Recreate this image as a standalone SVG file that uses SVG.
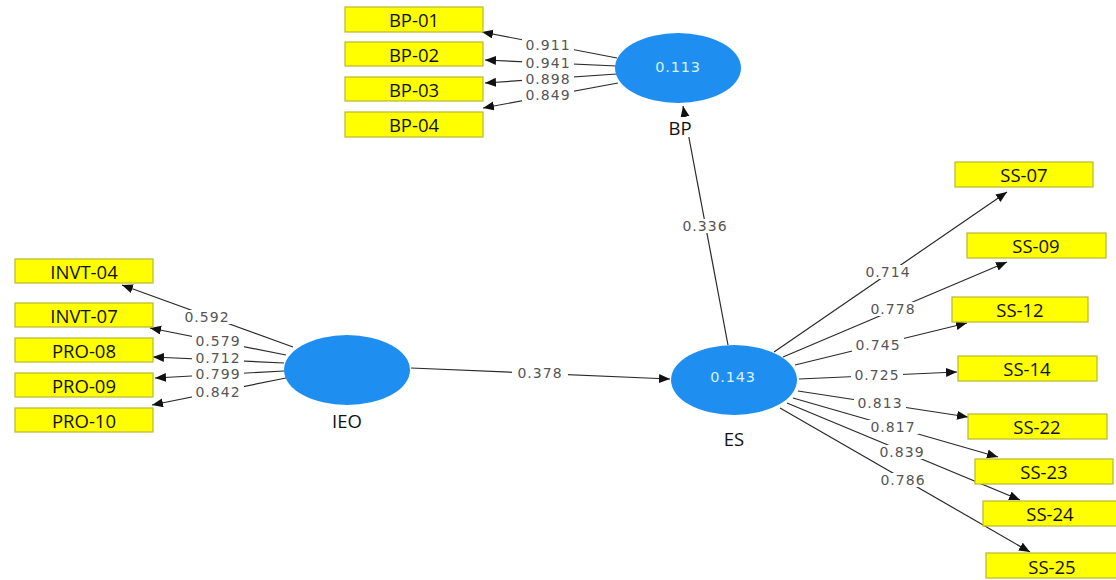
<svg xmlns="http://www.w3.org/2000/svg" width="1116" height="580" viewBox="0 0 1116 580">
<style>
.box{fill:#ffff00;stroke:#b8b830;stroke-width:1.2}
.btx{font-family:"Open Sans","Liberation Sans",sans-serif;font-size:18.5px;fill:#111;text-anchor:middle;dominant-baseline:central}
.ell{fill:#1e8ff0}
.etx{font-family:"DejaVu Sans",sans-serif;font-size:14.5px;fill:#d8f2ff;text-anchor:middle;dominant-baseline:central;letter-spacing:0.8px}
.ntx{font-family:"Open Sans","Liberation Sans",sans-serif;font-size:18.5px;fill:#111;text-anchor:middle;dominant-baseline:central}
.ln{stroke:#2a2a2a;stroke-width:1.2;fill:none;marker-end:url(#ah)}
.lb rect{fill:#fff}
.lb text{font-family:"DejaVu Sans",sans-serif;font-size:14px;fill:#555;text-anchor:middle;dominant-baseline:central;letter-spacing:1px}
</style>
<defs>
<marker id="ah" markerWidth="12" markerHeight="10" refX="11" refY="4.5" orient="auto" markerUnits="userSpaceOnUse">
<path d="M0,0 L11,4.5 L0,9 z" fill="#111"/>
</marker>
</defs>
<rect width="1116" height="580" fill="#fff"/>

<g id="connectors">
<line class="ln" x1="617" y1="58" x2="482" y2="32"/>
<line class="ln" x1="617" y1="66" x2="485" y2="60"/>
<line class="ln" x1="617" y1="74" x2="485" y2="83"/>
<line class="ln" x1="618" y1="83" x2="483" y2="108"/>
<line class="ln" x1="293" y1="347" x2="122" y2="285"/>
<line class="ln" x1="286" y1="355" x2="150" y2="328"/>
<line class="ln" x1="284" y1="363" x2="153" y2="357"/>
<line class="ln" x1="284" y1="371" x2="155" y2="378"/>
<line class="ln" x1="286" y1="378" x2="152" y2="405"/>
<line class="ln" x1="411" y1="368" x2="670" y2="379"/>
<line class="ln" x1="728" y1="345" x2="683" y2="106"/>
<line class="ln" x1="774" y1="352" x2="1007" y2="192"/>
<line class="ln" x1="783" y1="357" x2="1007" y2="262"/>
<line class="ln" x1="795" y1="365" x2="967" y2="323"/>
<line class="ln" x1="799" y1="379" x2="957" y2="372"/>
<line class="ln" x1="798" y1="391" x2="968" y2="417"/>
<line class="ln" x1="793" y1="398" x2="998" y2="457"/>
<line class="ln" x1="787" y1="403" x2="1020" y2="500"/>
<line class="ln" x1="780" y1="408" x2="1030" y2="552"/>

<g class="lb"><rect x="522" y="38" width="52" height="14"/><text x="548" y="45">0.911</text></g>
<g class="lb"><rect x="522" y="56" width="52" height="13"/><text x="548" y="62.5">0.941</text></g>
<g class="lb"><rect x="522" y="71" width="52" height="14"/><text x="548" y="78.5">0.898</text></g>
<g class="lb"><rect x="522" y="88" width="52" height="14"/><text x="548" y="95">0.849</text></g>
<g class="lb"><rect x="181" y="310" width="52" height="14"/><text x="207" y="317">0.592</text></g>
<g class="lb"><rect x="192" y="334" width="52" height="14"/><text x="218" y="341">0.579</text></g>
<g class="lb"><rect x="192" y="351" width="52" height="14"/><text x="218" y="358">0.712</text></g>
<g class="lb"><rect x="192" y="367" width="52" height="14"/><text x="218" y="374">0.799</text></g>
<g class="lb"><rect x="192" y="385" width="52" height="14"/><text x="218" y="392">0.842</text></g>
<g class="lb"><rect x="512" y="366" width="56" height="14"/><text x="540" y="373">0.378</text></g>
<g class="lb"><rect x="679" y="219" width="52" height="14"/><text x="705" y="226">0.336</text></g>
<g class="lb"><rect x="862" y="265" width="52" height="14"/><text x="888" y="272">0.714</text></g>
<g class="lb"><rect x="867" y="302" width="52" height="14"/><text x="893" y="309">0.778</text></g>
<g class="lb"><rect x="852" y="338" width="52" height="14"/><text x="878" y="345">0.745</text></g>
<g class="lb"><rect x="851" y="368" width="52" height="14"/><text x="877" y="375">0.725</text></g>
<g class="lb"><rect x="854" y="396" width="52" height="14"/><text x="880" y="403">0.813</text></g>
<g class="lb"><rect x="867" y="420" width="52" height="14"/><text x="893" y="427">0.817</text></g>
<g class="lb"><rect x="876" y="445" width="52" height="14"/><text x="902" y="452">0.839</text></g>
<g class="lb"><rect x="877" y="473" width="52" height="14"/><text x="903" y="480">0.786</text></g>
</g>

<g id="BP"><ellipse class="ell" cx="678" cy="68" rx="63" ry="35"/><text class="etx" x="678" y="67">0.113</text><rect x="666" y="117" width="28" height="20" fill="#fff"/><text class="ntx" x="680" y="127">BP</text></g>
<g id="IEO"><ellipse class="ell" cx="347" cy="370" rx="63" ry="35"/><text class="ntx" x="347" y="420">IEO</text></g>
<g id="ES"><ellipse class="ell" cx="734" cy="380" rx="63" ry="35"/><text class="etx" x="733" y="377">0.143</text><text class="ntx" x="734" y="438">ES</text></g>

<g id="BP-01"><rect class="box" x="345" y="7" width="138" height="25"/><text class="btx" x="414" y="19.5">BP-01</text></g>
<g id="BP-02"><rect class="box" x="345" y="42" width="138" height="24"/><text class="btx" x="414" y="54">BP-02</text></g>
<g id="BP-03"><rect class="box" x="345" y="77" width="138" height="24"/><text class="btx" x="414" y="89">BP-03</text></g>
<g id="BP-04"><rect class="box" x="345" y="112" width="138" height="25"/><text class="btx" x="414" y="124.5">BP-04</text></g>

<g id="INVT-04"><rect class="box" x="15" y="259" width="138" height="24"/><text class="btx" x="84" y="271">INVT-04</text></g>
<g id="INVT-07"><rect class="box" x="15" y="303" width="138" height="24"/><text class="btx" x="84" y="315">INVT-07</text></g>
<g id="PRO-08"><rect class="box" x="15" y="338" width="138" height="24"/><text class="btx" x="84" y="350">PRO-08</text></g>
<g id="PRO-09"><rect class="box" x="15" y="373" width="138" height="24"/><text class="btx" x="84" y="385">PRO-09</text></g>
<g id="PRO-10"><rect class="box" x="15" y="408" width="138" height="24"/><text class="btx" x="84" y="420">PRO-10</text></g>

<g id="SS-07"><rect class="box" x="955" y="162" width="138" height="25"/><text class="btx" x="1024" y="174.5">SS-07</text></g>
<g id="SS-09"><rect class="box" x="967" y="233" width="139" height="25"/><text class="btx" x="1036" y="245.5">SS-09</text></g>
<g id="SS-12"><rect class="box" x="952" y="297" width="136" height="25"/><text class="btx" x="1020" y="309.5">SS-12</text></g>
<g id="SS-14"><rect class="box" x="958" y="356" width="139" height="25"/><text class="btx" x="1027" y="368.5">SS-14</text></g>
<g id="SS-22"><rect class="box" x="968" y="414" width="139" height="25"/><text class="btx" x="1037" y="426.5">SS-22</text></g>
<g id="SS-23"><rect class="box" x="975" y="459" width="138" height="25"/><text class="btx" x="1044" y="471.5">SS-23</text></g>
<g id="SS-24"><rect class="box" x="983" y="501" width="138" height="25"/><text class="btx" x="1050" y="513.5">SS-24</text></g>
<g id="SS-25"><rect class="box" x="986" y="553" width="138" height="25"/><text class="btx" x="1052" y="566">SS-25</text></g>
</svg>
